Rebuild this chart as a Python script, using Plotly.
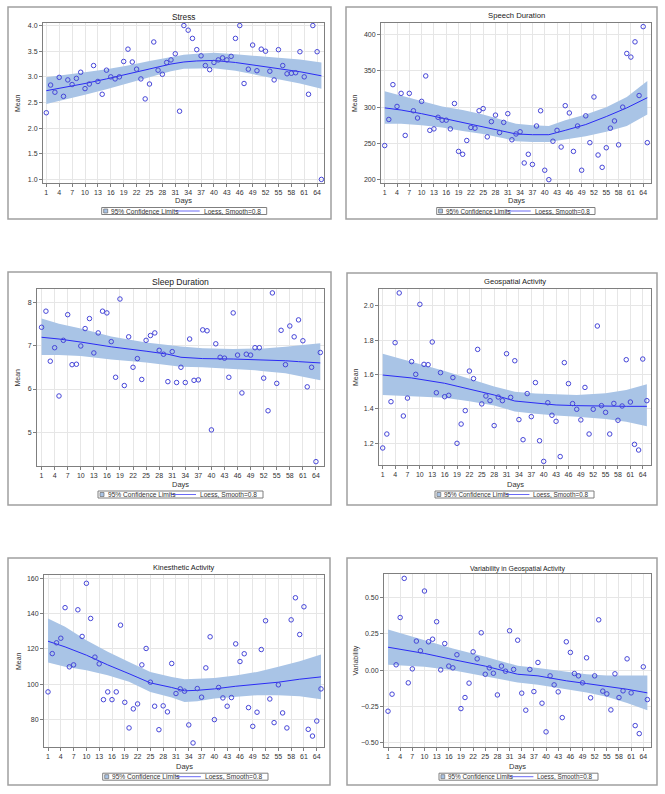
import plotly.graph_objects as go

W, H = 665, 794

# ---------- data ----------
days = list(range(1, 66))
day_ticks = list(range(1, 65, 3))

stress_mean = [2.30, 2.84, 2.70, 2.99, 2.62, 2.94, 2.85, 2.97, 3.09, 2.77,
               2.86, 3.22, 2.91, 2.66, 3.13, 3.00, 2.96, 3.00, 3.30, 3.54,
               3.29, 3.15, 2.96, 2.57, 2.86, 3.68, 3.13, 3.05, 3.28, 3.33,
               3.45, 2.33, 4.00, 3.91, 3.75, 3.53, 3.41, 3.22, 3.14, 3.28,
               3.33, 3.37, 3.33, 3.40, 3.75, 4.00, 2.87, 3.15, 3.62, 3.12,
               3.54, 3.50, 3.11, 2.94, 3.53, 3.22, 3.06, 3.07, 3.08, 3.49,
               3.00, 2.66, 4.00, 3.49, 1.00]
stress_knots = [1, 5, 10, 15, 20, 25, 30, 33, 36, 40, 45, 50, 55, 60, 65]
stress_fit = [2.73, 2.79, 2.87, 2.96, 3.06, 3.15, 3.25, 3.29, 3.31, 3.32, 3.28, 3.22, 3.16, 3.10, 3.02]
stress_upper = [2.99, 3.03, 3.09, 3.15, 3.22, 3.31, 3.39, 3.43, 3.45, 3.47, 3.44, 3.41, 3.38, 3.34, 3.28]
stress_lower = [2.47, 2.55, 2.65, 2.76, 2.88, 2.99, 3.11, 3.16, 3.17, 3.17, 3.12, 3.04, 2.95, 2.87, 2.77]

speech_mean = [247, 283, 331, 301, 319, 261, 319, 295, 285, 308,
               343, 268, 270, 286, 282, 282, 270, 305, 239, 235,
               254, 272, 271, 295, 298, 259, 280, 289, 265, 279,
               291, 255, 263, 266, 223, 235, 221, 274, 295, 213,
               200, 253, 268, 245, 302, 292, 239, 274, 213, 288,
               251, 314, 234, 217, 244, 271, 281, 248, 300, 374,
               369, 390, 316, 411, 251]
speech_knots = [1, 5, 10, 15, 20, 25, 30, 33, 37, 41, 45, 50, 55, 60, 65]
speech_fit = [299, 296, 291, 285, 279, 272, 266, 263, 262, 262, 268, 276, 287, 299, 313]
speech_upper = [322, 316, 309, 301, 296, 290, 282, 277, 275, 274, 282, 290, 300, 314, 336]
speech_lower = [277, 277, 275, 272, 267, 263, 257, 253, 252, 252, 255, 260, 266, 274, 290]

sleep_mean = [7.42, 7.79, 6.64, 6.95, 5.84, 7.12, 7.71, 6.56, 6.57, 6.99,
              7.39, 7.62, 6.83, 7.29, 7.79, 7.75, 7.09, 6.27, 8.07, 6.08,
              7.20, 6.50, 6.70, 6.22, 7.12, 7.23, 7.29, 6.89, 6.80, 6.17,
              6.86, 6.15, 6.50, 6.15, 7.15, 6.20, 6.21, 7.36, 7.34, 5.06,
              7.04, 6.73, 6.71, 6.27, 7.75, 6.78, 5.91, 6.80, 6.78, 6.95,
              6.95, 6.25, 5.50, 8.21, 6.13, 7.35, 6.56, 7.45, 7.20, 7.59,
              7.11, 6.05, 6.50, 4.33, 6.84]
sleep_knots = [1, 5, 10, 17, 25, 30, 33, 38, 45, 50, 52, 57, 60, 65]
sleep_fit = [7.19, 7.15, 7.08, 6.97, 6.87, 6.80, 6.73, 6.70, 6.69, 6.68, 6.66, 6.65, 6.63, 6.60]
sleep_upper = [7.62, 7.50, 7.39, 7.21, 7.07, 7.01, 6.98, 6.94, 6.92, 6.93, 6.93, 6.97, 7.00, 7.05]
sleep_lower = [6.78, 6.78, 6.76, 6.68, 6.61, 6.55, 6.51, 6.50, 6.46, 6.43, 6.41, 6.36, 6.31, 6.20]

geo_mean = [1.173, 1.254, 1.442, 1.785, 2.074, 1.359, 1.463, 1.675, 1.601, 2.008,
            1.659, 1.657, 1.789, 1.494, 1.611, 1.471, 1.479, 1.582, 1.200, 1.312,
            1.390, 1.620, 1.576, 1.746, 1.429, 1.475, 1.448, 1.303, 1.469, 1.448,
            1.721, 1.467, 1.680, 1.338, 1.221, 1.489, 1.355, 1.553, 1.215, 1.095,
            1.436, 1.363, 1.328, 1.123, 1.669, 1.547, 1.431, 1.398, 1.336, 1.525,
            1.254, 1.398, 1.882, 1.419, 1.380, 1.254, 1.432, 1.334, 1.417, 1.686,
            1.440, 1.194, 1.161, 1.690, 1.448]
geo_knots = [1, 8, 16, 22, 28, 33, 38, 43, 48, 55, 60, 65]
geo_fit = [1.597, 1.580, 1.549, 1.516, 1.481, 1.446, 1.436, 1.423, 1.419, 1.415, 1.415, 1.415]
geo_upper = [1.721, 1.675, 1.620, 1.575, 1.530, 1.500, 1.490, 1.485, 1.481, 1.491, 1.510, 1.543]
geo_lower = [1.481, 1.475, 1.465, 1.445, 1.420, 1.385, 1.372, 1.361, 1.355, 1.341, 1.326, 1.299]

kines_mean = [95.7, 117.4, 123.5, 126.1, 143.4, 109.9, 111.0, 142.2, 127.1, 157.2,
              137.3, 115.4, 111.6, 91.3, 95.7, 91.3, 95.7, 133.5, 89.8, 75.3,
              86.1, 88.9, 111.0, 120.3, 101.2, 87.6, 74.3, 87.8, 84.4, 111.8,
              94.8, 97.4, 96.1, 77.0, 66.8, 97.6, 92.7, 109.3, 126.9, 80.0,
              98.2, 92.3, 87.6, 92.5, 122.9, 112.9, 117.3, 86.8, 76.2, 84.2,
              119.7, 136.0, 91.7, 78.3, 99.7, 83.8, 75.3, 136.5, 149.0, 128.2,
              143.9, 74.5, 70.7, 79.2, 97.4]
kines_knots = [1, 5, 10, 15, 20, 25, 30, 33, 36, 40, 45, 50, 55, 60, 65]
kines_fit = [124.4, 121.2, 116.5, 111.0, 106.0, 100.8, 98.2, 96.3, 96.6, 97.4, 98.9, 100.0, 101.2, 102.9, 104.2]
kines_upper = [137.3, 132.6, 125.0, 118.4, 112.7, 107.0, 104.2, 102.9, 103.2, 103.6, 105.0, 107.0, 109.9, 113.1, 116.9]
kines_lower = [112.3, 109.9, 108.0, 105.2, 101.4, 95.7, 92.5, 90.0, 90.4, 91.9, 92.9, 93.8, 93.8, 93.2, 91.5]

var_geo = [-0.282, -0.165, 0.037, 0.362, 0.631, -0.087, 0.009, 0.200, 0.133, 0.544,
           0.195, 0.213, 0.333, 0.002, 0.183, 0.028, 0.016, 0.106, -0.264, -0.188,
           -0.089, 0.126, 0.078, 0.257, -0.028, 0.016, -0.021, -0.170, 0.028, -0.007,
           0.271, 0.005, 0.206, -0.158, -0.275, 0.005, -0.147, 0.053, -0.227, -0.424,
           -0.039, -0.101, -0.149, -0.326, 0.195, 0.122, -0.023, -0.039, -0.087, 0.085,
           -0.190, -0.039, 0.346, -0.144, -0.163, -0.273, -0.025, -0.188, -0.142, 0.078,
           -0.156, -0.381, -0.436, 0.023, -0.202]
var_knots = [1, 10, 17, 25, 30, 33, 38, 45, 50, 55, 60, 65]
var_fit = [0.158, 0.115, 0.073, 0.028, -0.007, -0.028, -0.039, -0.073, -0.092, -0.110, -0.131, -0.156]
var_upper = [0.280, 0.206, 0.149, 0.092, 0.053, 0.030, 0.015, -0.011, -0.028, -0.037, -0.037, -0.037]
var_lower = [0.037, 0.023, 0.000, -0.039, -0.069, -0.085, -0.100, -0.131, -0.154, -0.183, -0.225, -0.275]

band_label = "95% Confidence Limits"
fit_label = "Loess, Smooth=0.8"

# ---------- panel setup (pixel boxes of frame / plot area / legend) ----------
panels = [
    dict(title="Stress", tsize=8.3, ytitle="Mean", y=stress_mean, knots=stress_knots,
         fit=stress_fit, up=stress_upper, lo=stress_lower,
         frame=(8, 7, 331, 219), plot=(43, 23, 324, 183), xr=[0.23, 65.6], yr=[0.93, 4.05],
         yt=[1.0, 1.5, 2.0, 2.5, 3.0, 3.5, 4.0], fmt=".1f",
         ty=17, dy=200, leg=(101.7, 266.7, 211), yx=18),
    dict(title="Speech Duration", tsize=7.7, ytitle="Mean", y=speech_mean, knots=speech_knots,
         fit=speech_fit, up=speech_upper, lo=speech_lower,
         frame=(346, 7, 657, 219), plot=(381, 23, 651, 183), xr=[0.1, 65.9], yr=[195.4, 416],
         yt=[200, 250, 300, 350, 400], fmt="d",
         ty=15, dy=200, leg=(436.7, 595, 211), yx=355),
    dict(title="Sleep Duration", tsize=8.6, ytitle="Mean", y=sleep_mean, knots=sleep_knots,
         fit=sleep_fit, up=sleep_upper, lo=sleep_lower,
         frame=(8, 272, 331, 505), plot=(37, 289, 324, 466), xr=[-0.05, 65.85], yr=[4.23, 8.30],
         yt=[5, 6, 7, 8], fmt="d",
         ty=282, dy=484, leg=(98, 263, 494.5), yx=17),
    dict(title="Geospatial Activity", tsize=7.6, ytitle="Mean", y=geo_mean, knots=geo_knots,
         fit=geo_fit, up=geo_upper, lo=geo_lower,
         frame=(347, 273, 657, 505), plot=(379, 289, 651, 465), xr=[0.1, 66.0], yr=[1.074, 2.097],
         yt=[1.2, 1.4, 1.6, 1.8, 2.0], fmt=".1f",
         ty=281, dy=484, leg=(435, 594, 494.5), yx=355),
    dict(title="Kinesthetic Activity", tsize=7.4, ytitle="Mean", y=kines_mean, knots=kines_knots,
         fit=kines_fit, up=kines_upper, lo=kines_lower,
         frame=(8, 558, 330, 785), plot=(44, 575, 324, 747), xr=[0.06, 65.7], yr=[64.5, 161.9],
         yt=[80, 100, 120, 140, 160], fmt="d",
         ty=567, dy=766, leg=(102.7, 268, 776.7), yx=18),
    dict(title="Variability in Geospatial Activity", tsize=6.9, ytitle="Variability", y=var_geo,
         knots=var_knots, fit=var_fit, up=var_upper, lo=var_lower,
         frame=(347, 558, 657, 785), plot=(384, 574, 651, 747), xr=[0.01, 65.9], yr=[-0.528, 0.661],
         yt=[-0.50, -0.25, 0.00, 0.25, 0.50], fmt=".2f",
         ty=569, dy=766, leg=(439, 598, 776.7), yx=355),
]

FONT = "Liberation Sans, Arial, sans-serif"
BAND = "#a9c4e6"
LINE = "#2b2bf5"
MARK = "#4646d8"
GRAYTXT = "#333333"


def fx(px):
    return px / W


def fy(py):
    return 1 - py / H


def prect(x0, y0, x1, y1, **kw):
    return dict(type="rect", xref="paper", yref="paper",
                x0=fx(x0), x1=fx(x1), y0=fy(y1), y1=fy(y0), **kw)


def ptext(text, x, y, size, xanchor="center", angle=0, color=GRAYTXT):
    return dict(text=text, xref="paper", yref="paper", x=fx(x), y=fy(y),
                xanchor=xanchor, yanchor="middle", showarrow=False, textangle=angle,
                font=dict(size=size, color=color))


fig = go.Figure()
layout = dict(width=W, height=H, margin=dict(l=0, r=0, t=0, b=0),
              paper_bgcolor="white", plot_bgcolor="white", showlegend=False,
              font=dict(family=FONT, size=7, color=GRAYTXT),
              shapes=[], annotations=[])

for i, p in enumerate(panels, start=1):
    sfx = "" if i == 1 else str(i)
    xa, ya = "x" + sfx, "y" + sfx

    # confidence band polygon
    fig.add_trace(go.Scatter(
        x=p["knots"] + p["knots"][::-1], y=p["up"] + p["lo"][::-1],
        fill="toself", fillcolor=BAND, line=dict(width=0, color=BAND),
        mode="lines", name=band_label, hoverinfo="skip", xaxis=xa, yaxis=ya))
    # loess fit
    fig.add_trace(go.Scatter(
        x=p["knots"], y=p["fit"], mode="lines", line=dict(color=LINE, width=1),
        name=fit_label, xaxis=xa, yaxis=ya))
    # daily means
    fig.add_trace(go.Scatter(
        x=days, y=p["y"], mode="markers", name=p["title"],
        marker=dict(symbol="circle-open", size=4.5, color=MARK, line=dict(width=1, color=MARK)),
        xaxis=xa, yaxis=ya))

    l, t, r, b = p["plot"]
    axis_common = dict(showline=True, mirror=True, linecolor="#7f7f7f", linewidth=1,
                       ticks="outside", ticklen=3, tickcolor="#7f7f7f",
                       showgrid=True, gridcolor="#e6e6e6", gridwidth=1, zeroline=False,
                       tickfont=dict(size=7, color=GRAYTXT))
    layout["xaxis" + sfx] = dict(domain=[fx(l), fx(r)], range=p["xr"], anchor=ya,
                                 tickvals=day_ticks, **axis_common)
    layout["yaxis" + sfx] = dict(domain=[fy(b), fy(t)], range=p["yr"], anchor=xa,
                                 tickvals=p["yt"], tickformat=p["fmt"], **axis_common)

    cx = (l + r) / 2

    # frame round the panel
    fl, ft, fr, fb = p["frame"]
    layout["shapes"].append(prect(fl, ft, fr, fb, line=dict(color="#a0a0a0", width=1.5)))

    # legend box drawn by hand (SAS style, compact)
    L, R, cy = p["leg"]
    s = (R - L) / 165.0
    layout["shapes"] += [
        prect(L, cy - 3.5, R, cy + 3.5, line=dict(color="#7f7f7f", width=1), fillcolor="white"),
        prect(L + 2 * s, cy - 2, L + 6 * s, cy + 2,
              line=dict(color="#6b6b6b", width=0.7), fillcolor=BAND),
        dict(type="line", xref="paper", yref="paper",
             x0=fx(L + 73 * s), x1=fx(L + 98 * s), y0=fy(cy), y1=fy(cy),
             line=dict(color="#6a6af5", width=1)),
    ]
    layout["annotations"] += [
        ptext(band_label, L + 7.5 * s, cy, 6.6 * s, xanchor="left"),
        ptext(fit_label, L + 100 * s, cy, 6.6 * s, xanchor="left"),
        ptext(p["title"], cx, p["ty"], p["tsize"], color="#222222"),
        ptext("Days", cx, p["dy"], 7.5),
        ptext(p["ytitle"], p["yx"], (t + b) / 2, 7, angle=-90),
    ]

fig.update_layout(**layout)
# page body has a default 8px margin; drop it so the figure sits at the window corner
fig.write_html("out.html", config={"displayModeBar": False},
               post_script="document.body.style.margin='0px';")
